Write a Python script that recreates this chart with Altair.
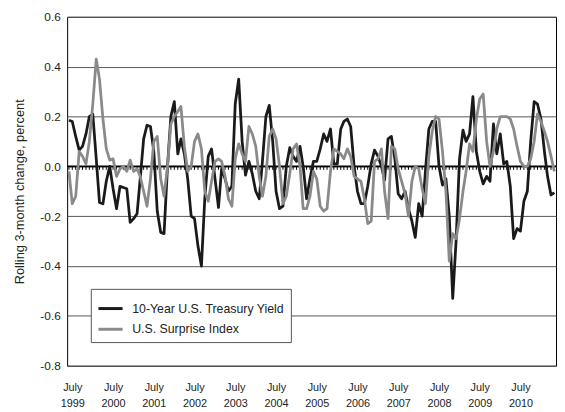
import altair as alt
import pandas as pd

# Monthly observations, June 1999 - May 2011
months = pd.date_range("1999-06-01", periods=144, freq="MS").strftime("%Y-%m-%d").tolist()

treasury = [
    0.185, 0.18, 0.12, 0.065, 0.08, 0.13, 0.2,
    0.21, 0.03, -0.145, -0.15, -0.06, 0.0, -0.09, -0.17, -0.08, -0.085, -0.09, -0.225,
    -0.21, -0.19, -0.05, 0.11, 0.165, 0.16, 0.06, -0.18, -0.265, -0.27, 0.0, 0.2,
    0.26, 0.05, 0.11, 0.05, -0.05, -0.2, -0.21, -0.32, -0.40, -0.13, 0.04, 0.07,
    -0.05, -0.165, -0.01, -0.05, -0.1, -0.08, 0.25, 0.35, 0.1, -0.035, 0.02, -0.03,
    -0.1, -0.13, 0.02, 0.2, 0.245, 0.1, -0.1, -0.17, -0.16, 0.0, 0.075, 0.04,
    0.02, 0.08, 0.0, -0.13, -0.05, 0.02, 0.02, 0.07, 0.13, 0.1, 0.15, 0.01,
    0.01, 0.15, 0.18, 0.19, 0.16, 0.0, -0.1, -0.15, -0.15, -0.08, 0.01, 0.065,
    0.04, 0.0, -0.055, 0.11, 0.12, 0.03, -0.11, -0.13, -0.1, -0.17, -0.22, -0.285,
    -0.15, -0.2, -0.02, 0.15, 0.18, 0.18, 0.0, -0.075, -0.05, -0.2, -0.53, -0.3,
    0.03, 0.145, 0.1, 0.13, 0.28, 0.06, -0.02, -0.07, -0.04, -0.06, 0.17, 0.05,
    0.13, 0.01, 0.02, -0.08, -0.29, -0.25, -0.26, -0.14, -0.1, 0.1, 0.26, 0.25,
    0.19, 0.06, -0.04, -0.115, -0.105,
]

surprise = [
    -0.02, -0.15, -0.12, 0.06, 0.04, 0.01, 0.1,
    0.25, 0.43, 0.35, 0.19, 0.07, 0.025, 0.03, -0.04, -0.01, 0.0, -0.02, 0.025,
    -0.02, -0.01, -0.04, -0.1, -0.16, -0.05, 0.1, 0.12, -0.05, -0.12, 0.0, 0.17,
    0.2, 0.22, 0.24, 0.08, -0.02, 0.0, 0.1, 0.13, 0.07, -0.1, -0.14, -0.06,
    0.02, 0.03, 0.02, -0.04, -0.13, -0.16, 0.03, 0.09, 0.05, 0.02, 0.16, 0.13,
    0.08, -0.04, -0.12, -0.04, 0.12, 0.15, 0.11, 0.0, -0.15, -0.12, -0.03, 0.07,
    0.09, 0.0, -0.17, -0.17, -0.12, -0.02, -0.05, -0.16, -0.18, -0.17, -0.02, 0.07,
    0.06, 0.05, 0.03, 0.07, 0.04, -0.04, -0.05, -0.06, -0.13, -0.23, -0.22, 0.02,
    0.03, 0.07, -0.1, -0.21, 0.08, 0.07, -0.01, -0.06, -0.11, -0.2, -0.06, 0.0,
    -0.01, -0.09, -0.15, 0.04, 0.14, 0.2, 0.19, 0.06, -0.1, -0.38, -0.27, -0.29,
    -0.21, -0.1, -0.02, 0.09, 0.06, 0.19, 0.27, 0.29, 0.1, 0.0, 0.06, 0.15,
    0.2, 0.2, 0.2, 0.19, 0.15, 0.08, 0.02, 0.0, 0.0, 0.03, 0.1, 0.21,
    0.18, 0.14, 0.1, 0.04, -0.02,
]

series_names = ["10-Year U.S. Treasury Yield", "U.S. Surprise Index"]
series_colors = ["#1a1a1a", "#8a8a8a"]
y_ticks = [0.6, 0.4, 0.2, 0.0, -0.2, -0.4, -0.6, -0.8]
label_years = list(range(1999, 2011))
y_title = "Rolling 3-month change, percent"

df = pd.DataFrame({
    "date": months * 2,
    "value": treasury + surprise,
    "series": [series_names[0]] * len(treasury) + [series_names[1]] * len(surprise),
})
tick_df = pd.DataFrame({"date": months})
zero_df = pd.DataFrame({"v": [0.0]})

FONT = "Liberation Sans, Arial, sans-serif"

x_scale = alt.Scale(
    type="utc",
    domain=[alt.DateTime(year=1999, month=5, date=16, utc=True),
            alt.DateTime(year=2011, month=5, date=16, utc=True)],
)
y_scale = alt.Scale(domain=[-0.8, 0.6], nice=False, zero=False)

x_axis = alt.Axis(
    values=[alt.DateTime(year=y, month=7, date=1, utc=True) for y in label_years],
    labelExpr="['July', utcFormat(datum.value, '%Y')]",
    title=None, grid=False, domain=False, ticks=False,
    labelFont=FONT, labelFontSize=11, labelColor="#222",
    labelPadding=16, labelLineHeight=16, labelFlush=False, labelOverlap=False,
)
y_axis = alt.Axis(
    values=y_ticks,
    labelExpr="replace(format(datum.value, '.1f'), '\u2212', '-')",
    title=y_title, grid=True, gridColor="#555", gridWidth=1,
    domain=False, ticks=False, labelPadding=7,
    labelFont=FONT, labelFontSize=12, labelColor="#222",
    titleFont=FONT, titleFontSize=13, titleFontWeight="normal", titleColor="#222",
    titleX=-48, titleY=177, titleAngle=-90, titleBaseline="middle", titleAlign="center",
)

base_x = alt.X("date:T", scale=x_scale, axis=x_axis)

zero_line = alt.Chart(zero_df).mark_rule(color="black", strokeWidth=1.5).encode(
    y=alt.Y("v:Q", scale=y_scale, axis=y_axis)
)

month_ticks = alt.Chart(tick_df).mark_rule(color="black", strokeWidth=1).encode(
    x=base_x,
    y=alt.Y(datum=0, scale=y_scale),
    y2=alt.Y2(datum=-0.014),
)

lines = alt.Chart(df).mark_line(strokeWidth=2.8, strokeJoin="round").encode(
    x=base_x,
    y=alt.Y("value:Q", scale=y_scale, axis=y_axis),
    color=alt.Color(
        "series:N",
        scale=alt.Scale(domain=series_names, range=series_colors),
        legend=alt.Legend(
            title=None, orient="none", legendX=24, legendY=276, direction="vertical",
            fillColor="white", strokeColor="#555", padding=6,
            symbolType="stroke", symbolSize=600, symbolStrokeWidth=3,
            labelFont=FONT, labelFontSize=12.5, labelColor="#222",
            labelOffset=8, rowPadding=0, labelLimit=0,
        ),
    ),
)

chart = alt.layer(zero_line, month_ticks, lines).properties(
    width=496, height=354,
    autosize=alt.AutoSizeParams(type="none"),
    padding={"left": 60, "top": 6, "right": 1, "bottom": 44},
    background="white",
).configure_view(stroke="black", strokeWidth=1)

chart.save("out.html", embed_options={"renderer": "svg", "actions": False})
